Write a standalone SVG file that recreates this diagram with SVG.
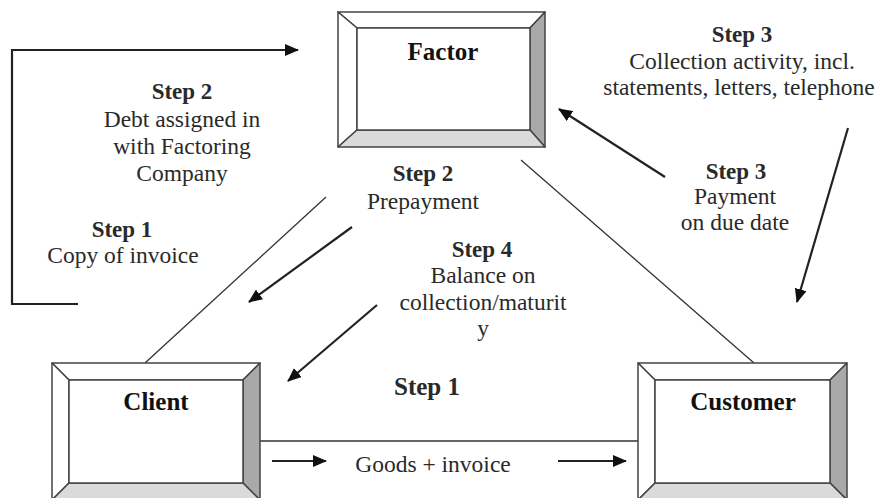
<svg xmlns="http://www.w3.org/2000/svg" width="883" height="498" viewBox="0 0 883 498">
<defs>
<style>
.t{font-family:"Liberation Serif","Times New Roman",serif;fill:#2a2a2a;text-anchor:middle}
.r{font-size:23.5px}
.b{font-size:23px;font-weight:bold}
.h{font-size:25px;font-weight:bold;fill:#111}
.lt{fill:#fff;stroke:#444;stroke-width:1.5;stroke-linejoin:round}
.dk{fill:#a9a9a9;stroke:#444;stroke-width:1.5;stroke-linejoin:round}
.md{fill:#dadada;stroke:#444;stroke-width:1.5;stroke-linejoin:round}
.in{fill:#fff;stroke:#444;stroke-width:1.5}
.ln{fill:none;stroke:#333;stroke-width:1.3}
.ar{fill:none;stroke:#222;stroke-width:2.2}
</style>
<marker id="ah" markerUnits="userSpaceOnUse" markerWidth="14" markerHeight="12" refX="13" refY="6" orient="auto">
<path d="M0,0 L14,6 L0,12 Z" fill="#111"/>
</marker>
</defs>

<g id="connectors">
<polyline class="ar" points="78,304 12,304 12,50 298,50" marker-end="url(#ah)"/>
<line class="ln" x1="326" y1="197" x2="145" y2="363"/>
<line class="ln" x1="521" y1="160" x2="754" y2="363"/>
<line class="ln" x1="260" y1="441" x2="638" y2="441"/>
<line class="ar" x1="352" y1="227" x2="249" y2="302" marker-end="url(#ah)"/>
<line class="ar" x1="377" y1="305" x2="288" y2="381" marker-end="url(#ah)"/>
<line class="ar" x1="665" y1="177" x2="559" y2="109" marker-end="url(#ah)"/>
<line class="ar" x1="848" y1="128" x2="797" y2="302" marker-end="url(#ah)"/>
<line class="ar" x1="272" y1="461" x2="326" y2="461" marker-end="url(#ah)"/>
<line class="ar" x1="558" y1="461" x2="626" y2="461" marker-end="url(#ah)"/>
</g>

<g id="factor">
<polygon class="lt" points="338,12 545,12 530,28 357,28"/>
<polygon class="lt" points="338,12 357,28 357,130 338,147"/>
<polygon class="dk" points="545,12 545,147 530,130 530,28"/>
<polygon class="md" points="338,147 357,130 530,130 545,147"/>
<rect class="in" x="357" y="28" width="173" height="102"/>
<text class="t h" x="443" y="60">Factor</text>
</g>

<g id="client">
<polygon class="lt" points="52,363 260,363 243,380 69,380"/>
<polygon class="lt" points="52,363 69,380 69,483 52,500"/>
<polygon class="dk" points="260,363 260,500 243,483 243,380"/>
<polygon class="md" points="52,500 69,483 243,483 260,500"/>
<rect class="in" x="69" y="380" width="174" height="103"/>
<text class="t h" x="156" y="410">Client</text>
</g>

<g id="customer">
<polygon class="lt" points="638,363 847,363 830,380 655,380"/>
<polygon class="lt" points="638,363 655,380 655,483 638,500"/>
<polygon class="dk" points="847,363 847,500 830,483 830,380"/>
<polygon class="md" points="638,500 655,483 830,483 847,500"/>
<rect class="in" x="655" y="380" width="175" height="103"/>
<text class="t h" x="743" y="410">Customer</text>
</g>

<g id="labels">
<text class="t b" x="182" y="99">Step 2</text>
<text class="t r" x="182" y="127">Debt assigned in</text>
<text class="t r" x="182" y="154">with Factoring</text>
<text class="t r" x="182" y="181">Company</text>

<text class="t b" x="122" y="237">Step 1</text>
<text class="t r" x="123" y="263">Copy of invoice</text>

<text class="t b" x="423" y="181">Step 2</text>
<text class="t r" x="423" y="209">Prepayment</text>

<text class="t b" x="482" y="257">Step 4</text>
<text class="t r" x="483" y="283">Balance on</text>
<text class="t r" x="483" y="310">collection/maturit</text>
<text class="t r" x="483" y="336">y</text>

<text class="t b" x="427" y="395" style="font-size:25px">Step 1</text>
<text class="t r" x="433" y="472">Goods + invoice</text>

<text class="t b" x="742" y="42">Step 3</text>
<text class="t r" x="742" y="69">Collection activity, incl.</text>
<text class="t r" x="739" y="95">statements, letters, telephone</text>

<text class="t b" x="736" y="179">Step 3</text>
<text class="t r" x="735" y="204">Payment</text>
<text class="t r" x="735" y="230">on due date</text>
</g>
</svg>
